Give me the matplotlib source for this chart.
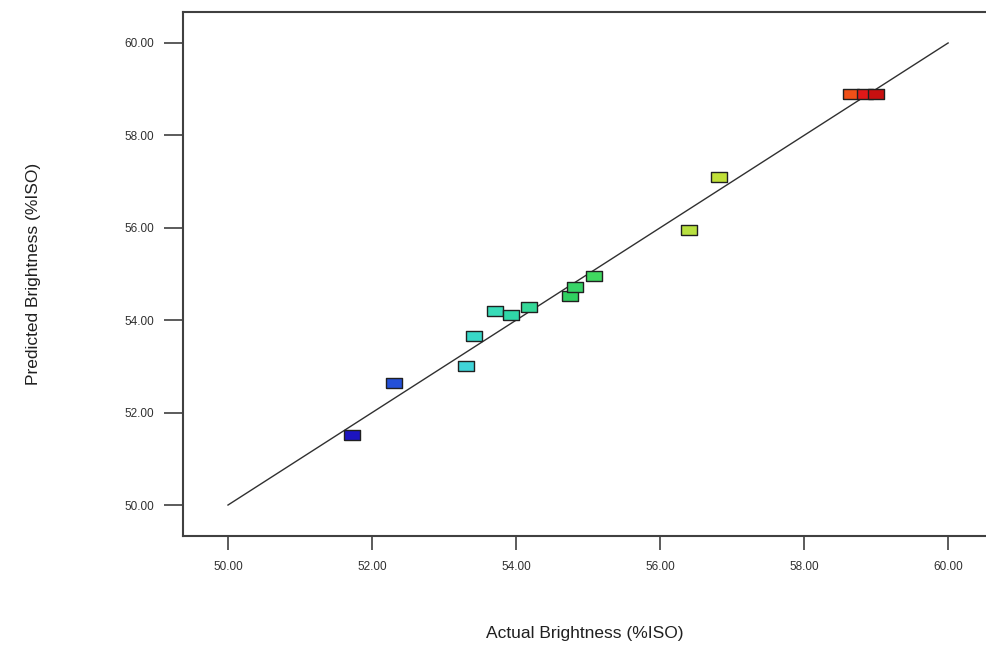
import matplotlib
matplotlib.use("Agg")
import matplotlib.pyplot as plt
import numpy as np

plt.rcParams['font.family'] = ['Liberation Sans', 'DejaVu Sans']

# actual vs predicted brightness (%ISO)
actual = [51.72, 52.31, 53.31, 53.42, 53.71, 53.93, 54.18, 54.75, 54.82, 55.08,
          56.40, 56.82, 58.65, 58.85, 59.00]
predicted = [51.52, 52.64, 53.01, 53.66, 54.20, 54.11, 54.29, 54.52, 54.72, 54.96,
             55.95, 57.10, 58.90, 58.90, 58.90]
colors = ['#1c14c0', '#2450d8', '#40d4d8', '#38d8c8', '#38dcb8', '#30d8a8', '#34d898',
          '#30d060', '#38d468', '#40d860', '#b8e040', '#c0e038', '#f05018', '#e01818', '#c81010']
ticks = [50, 52, 54, 56, 58, 60]
tick_labels = ['50.00', '52.00', '54.00', '56.00', '58.00', '60.00']

fig = plt.figure(figsize=(9.87, 6.46), dpi=100)
ax = fig.add_axes([0.1854, 0.1703, 1 - 0.1854, 0.8111])

ax.plot([50, 60], [50, 60], color='#303030', lw=1.0, zorder=1)

rect = [(-1, -0.62), (1, -0.62), (1, 0.62), (-1, 0.62), (-1, -0.62)]
ax.scatter(actual, predicted, marker=rect, s=135, c=colors,
           edgecolors='#202020', linewidths=1.0, zorder=3)

ax.set_xlim(49.375, 60.54)
ax.set_ylim(49.33, 60.67)
ax.set_xticks(ticks)
ax.set_xticklabels(tick_labels)
ax.set_yticks(ticks)
ax.set_yticklabels(tick_labels)
ax.spines['right'].set_visible(False)
for s in ['left', 'bottom', 'top']:
    ax.spines[s].set_color('#404040')
    ax.spines[s].set_linewidth(1.5)
ax.tick_params(axis='x', direction='out', length=10, width=1.2, labelsize=8.5, pad=8,
               color='#404040', labelcolor='#303030')
ax.tick_params(axis='y', direction='out', length=14, width=1.2, labelsize=8.5, pad=7,
               color='#404040', labelcolor='#303030')

ax.set_xlabel('Actual Brightness (%ISO)', fontsize=12.5, labelpad=38, color='#202020')
ax.set_ylabel('Predicted Brightness (%ISO)', fontsize=12.5, labelpad=60, color='#202020')

fig.savefig('out.png', dpi=100)
